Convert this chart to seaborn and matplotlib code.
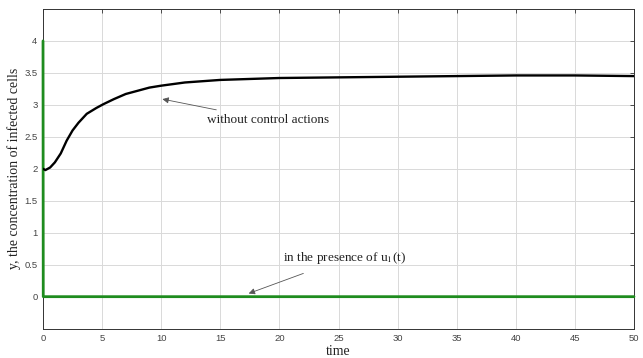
import numpy as np
import pandas as pd
import matplotlib
matplotlib.use("Agg")
import matplotlib.pyplot as plt
import seaborn as sns

# black curve: no control
t_free = [0, 0.2, 0.6, 1.0, 1.5, 2.0, 2.5, 3.0, 3.7, 4.5, 5.1, 6, 7, 8, 9, 10,
          12, 15, 20, 25, 30, 35, 40, 45, 50]
y_free = [2.0, 1.98, 2.02, 2.1, 2.24, 2.44, 2.6, 2.72, 2.86, 2.95, 3.01, 3.09,
          3.17, 3.22, 3.27, 3.30, 3.35, 3.39, 3.42, 3.43, 3.44, 3.45, 3.46, 3.46, 3.45]

# green curve: with control u1(t)
t_ctrl = [0, 0.02, 10, 20, 30, 40, 50]
y_ctrl = [4.0, 0.0, 0.0, 0.0, 0.0, 0.0, 0.0]

x_ticks = list(range(0, 51, 5))
y_ticks = [0, 0.5, 1, 1.5, 2, 2.5, 3, 3.5, 4]

df_free = pd.DataFrame({"time": t_free, "y": y_free})
df_ctrl = pd.DataFrame({"time": t_ctrl, "y": y_ctrl})

sns.set_theme(style="whitegrid")
plt.rcParams["mathtext.fontset"] = "stix"
serif = ["Liberation Serif", "DejaVu Serif"]

fig = plt.figure(figsize=(6.43, 3.58), dpi=100)
ax = fig.add_axes([0.0669, 0.082, 0.9191, 0.893])

sns.lineplot(data=df_ctrl, x="time", y="y", color="#1e8c1e", linewidth=2.0,
             sort=False, estimator=None, ax=ax, clip_on=False, zorder=3)
sns.lineplot(data=df_free, x="time", y="y", color="black", linewidth=1.7,
             sort=False, estimator=None, ax=ax, zorder=3)

ax.set_xlim(0, 50)
ax.set_ylim(-0.5, 4.5)
ax.set_xticks(x_ticks)
ax.set_yticks(y_ticks)
ax.set_yticklabels(["0", "0.5", "1", "1.5", "2", "2.5", "3", "3.5", "4"])
ax.grid(True, color="#d9d9d9", linewidth=0.7)
ax.set_facecolor("white")
for s in ax.spines.values():
    s.set_visible(True)
    s.set_color("#333333")
    s.set_linewidth(0.7)
ax.tick_params(direction="in", top=True, right=True, length=3, width=0.6,
               labelsize=6.8, labelcolor="#444444", color="#333333", pad=4)
for lab in ax.get_xticklabels() + ax.get_yticklabels():
    lab.set_family(["Liberation Sans", "DejaVu Sans"])

ax.set_xlabel("time", family=serif, fontsize=10, labelpad=1, color="#222222")
ax.set_ylabel("y, the concentration of infected cells", family=serif,
              fontsize=10, labelpad=2, color="#222222")

ax.annotate("without control actions", xy=(10.1, 3.09), xytext=(13.9, 2.76),
            family=serif, fontsize=9.5, va="center", color="#222222",
            arrowprops=dict(arrowstyle="-|>", color="#555555", lw=0.6,
                            mutation_scale=9, shrinkA=4, shrinkB=0))
ax.annotate(r"in the presence of u$_{\mathrm{1}}$(t)", xy=(17.4, 0.05), xytext=(20.3, 0.6),
            family=serif, fontsize=9.5, va="center", color="#222222",
            arrowprops=dict(arrowstyle="-|>", color="#555555", lw=0.6,
                            mutation_scale=9, shrinkA=8, shrinkB=0))

fig.savefig("out.png", dpi=100)
